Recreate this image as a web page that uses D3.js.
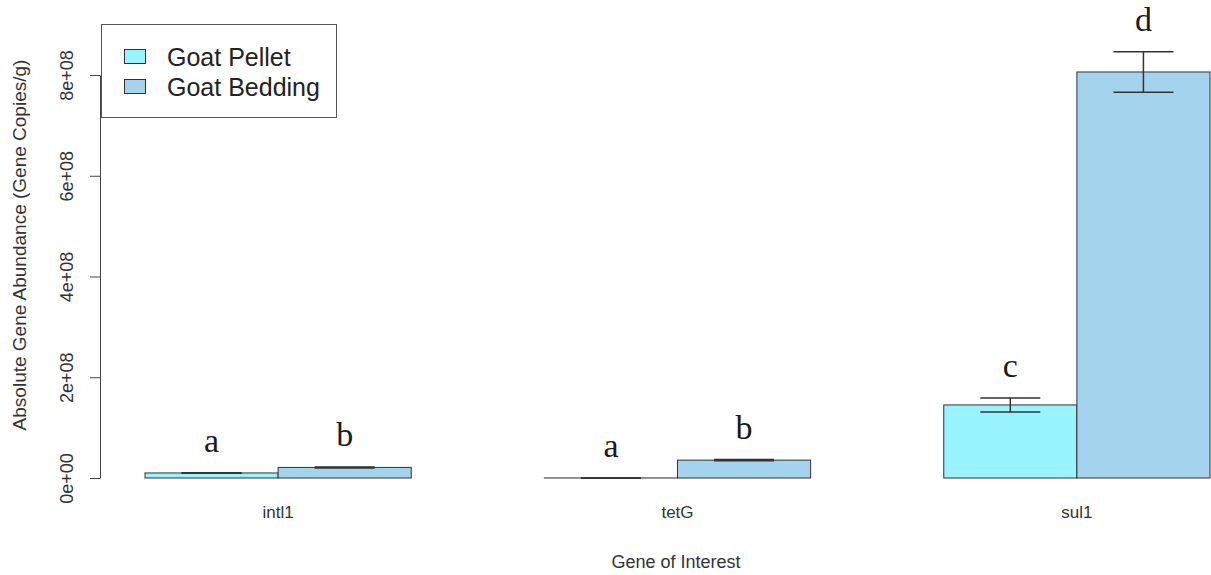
<!DOCTYPE html>
<html>
<head>
<meta charset="utf-8">
<script src="https://cdn.jsdelivr.net/npm/d3@7"></script>
<style>
  html, body { margin: 0; padding: 0; background: #fff; }
  svg { display: block; }
</style>
</head>
<body>
<div id="chart"></div>
<script>
// ---------------------------------------------------------------------------
// Data

const genes = ['intl1', 'tetG', 'sul1'];
const seriesNames = ['Goat Pellet', 'Goat Bedding'];
const seriesColors = ['#98F5FF', '#A4D3EE'];

const pelletMeans = [1.0e7, 1.0e5, 1.45e8];
const pelletErrors = [5.0e5, 1.0e5, 1.4e7];
const pelletLetters = ['a', 'a', 'c'];

const beddingMeans = [2.1e7, 3.55e7, 8.06e8];
const beddingErrors = [1.0e6, 1.2e6, 4.0e7];
const beddingLetters = ['b', 'b', 'd'];

const yTicks = [0, 2e8, 4e8, 6e8, 8e8];
const yTickLabels = ['0e+00', '2e+08', '4e+08', '6e+08', '8e+08'];

// ---------------------------------------------------------------------------
// Chart

const width = 1211;
const height = 575;

const rows = [];
genes.forEach((gene, i) => {
  rows.push({gene, series: seriesNames[0], value: pelletMeans[i], err: pelletErrors[i], letter: pelletLetters[i]});
  rows.push({gene, series: seriesNames[1], value: beddingMeans[i], err: beddingErrors[i], letter: beddingLetters[i]});
});

const svg = d3.select('#chart')
  .append('svg')
  .attr('width', width)
  .attr('height', height);

svg.append('rect')
  .attr('width', width)
  .attr('height', height)
  .attr('fill', '#fff');

const x0 = d3.scaleBand()
  .domain(genes)
  .range([145, 1210])
  .paddingInner(1 / 3)
  .paddingOuter(0);

const x1 = d3.scaleBand()
  .domain(seriesNames)
  .range([0, x0.bandwidth()])
  .padding(0);

const y = d3.scaleLinear()
  .domain([0, 8e8])
  .range([478, 75]);

const color = d3.scaleOrdinal()
  .domain(seriesNames)
  .range(seriesColors);

// bars
svg.append('g')
  .selectAll('rect')
  .data(rows)
  .enter()
  .append('rect')
  .attr('x', (d) => x0(d.gene) + x1(d.series))
  .attr('y', (d) => y(d.value))
  .attr('width', x1.bandwidth())
  .attr('height', (d) => y(0) - y(d.value))
  .attr('fill', (d) => color(d.series))
  .attr('stroke', '#333')
  .attr('stroke-width', 1);

// error bars
const capHalf = 30;
const errs = svg.append('g')
  .attr('stroke', '#333')
  .attr('stroke-width', 1.5)
  .selectAll('g')
  .data(rows)
  .enter()
  .append('g')
  .attr('transform', (d) => `translate(${x0(d.gene) + x1(d.series) + x1.bandwidth() / 2},0)`);

errs.append('line')
  .attr('y1', (d) => y(d.value - d.err))
  .attr('y2', (d) => y(d.value + d.err));
errs.append('line')
  .attr('x1', -capHalf).attr('x2', capHalf)
  .attr('y1', (d) => y(d.value + d.err))
  .attr('y2', (d) => y(d.value + d.err));
errs.append('line')
  .attr('x1', -capHalf).attr('x2', capHalf)
  .attr('y1', (d) => y(d.value - d.err))
  .attr('y2', (d) => y(d.value - d.err));

// significance letters
svg.append('g')
  .selectAll('text')
  .data(rows)
  .enter()
  .append('text')
  .attr('x', (d) => x0(d.gene) + x1(d.series) + x1.bandwidth() / 2)
  .attr('y', (d) => y(d.value + d.err) - 21)
  .attr('text-anchor', 'middle')
  .attr('font-family', '"Liberation Serif", "Times New Roman", serif')
  .attr('font-size', 34)
  .attr('fill', '#1a1a1a')
  .text((d) => d.letter);

// y axis
const yAxis = svg.append('g')
  .attr('transform', 'translate(100,0)')
  .call(d3.axisLeft(y)
    .tickValues(yTicks)
    .tickFormat((d, i) => yTickLabels[i])
    .tickSize(10)
    .tickSizeOuter(0));

yAxis.select('.domain').attr('stroke', '#444');
yAxis.selectAll('.tick line').attr('stroke', '#444');
yAxis.selectAll('.tick text')
  .attr('transform', 'rotate(-90)')
  .attr('x', 0)
  .attr('y', -27)
  .attr('dy', 0)
  .attr('text-anchor', 'middle')
  .attr('font-family', '"Liberation Sans", Arial, sans-serif')
  .attr('font-size', 18)
  .attr('fill', '#333');

// x category labels
svg.append('g')
  .selectAll('text')
  .data(genes)
  .enter()
  .append('text')
  .attr('x', (d) => x0(d) + x0.bandwidth() / 2)
  .attr('y', 518)
  .attr('text-anchor', 'middle')
  .attr('font-family', '"Liberation Sans", Arial, sans-serif')
  .attr('font-size', 17)
  .attr('fill', '#333')
  .text((d) => d);

// axis titles
svg.append('text')
  .attr('x', 676)
  .attr('y', 568)
  .attr('text-anchor', 'middle')
  .attr('font-family', '"Liberation Sans", Arial, sans-serif')
  .attr('font-size', 18)
  .attr('fill', '#333')
  .text('Gene of Interest');

svg.append('text')
  .attr('transform', 'translate(26,245) rotate(-90)')
  .attr('text-anchor', 'middle')
  .attr('font-family', '"Liberation Sans", Arial, sans-serif')
  .attr('font-size', 19)
  .attr('fill', '#333')
  .text('Absolute Gene Abundance (Gene Copies/g)');

// legend
const legend = svg.append('g');
legend.append('rect')
  .attr('x', 101.5)
  .attr('y', 24.5)
  .attr('width', 235)
  .attr('height', 93)
  .attr('fill', '#fff')
  .attr('stroke', '#555')
  .attr('stroke-width', 1);

const items = legend.selectAll('g')
  .data(seriesNames)
  .enter()
  .append('g')
  .attr('transform', (d, i) => `translate(0,${i * 30})`);

items.append('rect')
  .attr('x', 124.5)
  .attr('y', 49.5)
  .attr('width', 21)
  .attr('height', 14)
  .attr('fill', (d) => color(d))
  .attr('stroke', '#333');

items.append('text')
  .attr('x', 167)
  .attr('y', 66)
  .attr('font-family', '"Liberation Sans", Arial, sans-serif')
  .attr('font-size', 25)
  .attr('fill', '#222')
  .text((d) => d);
</script>
</body>
</html>
